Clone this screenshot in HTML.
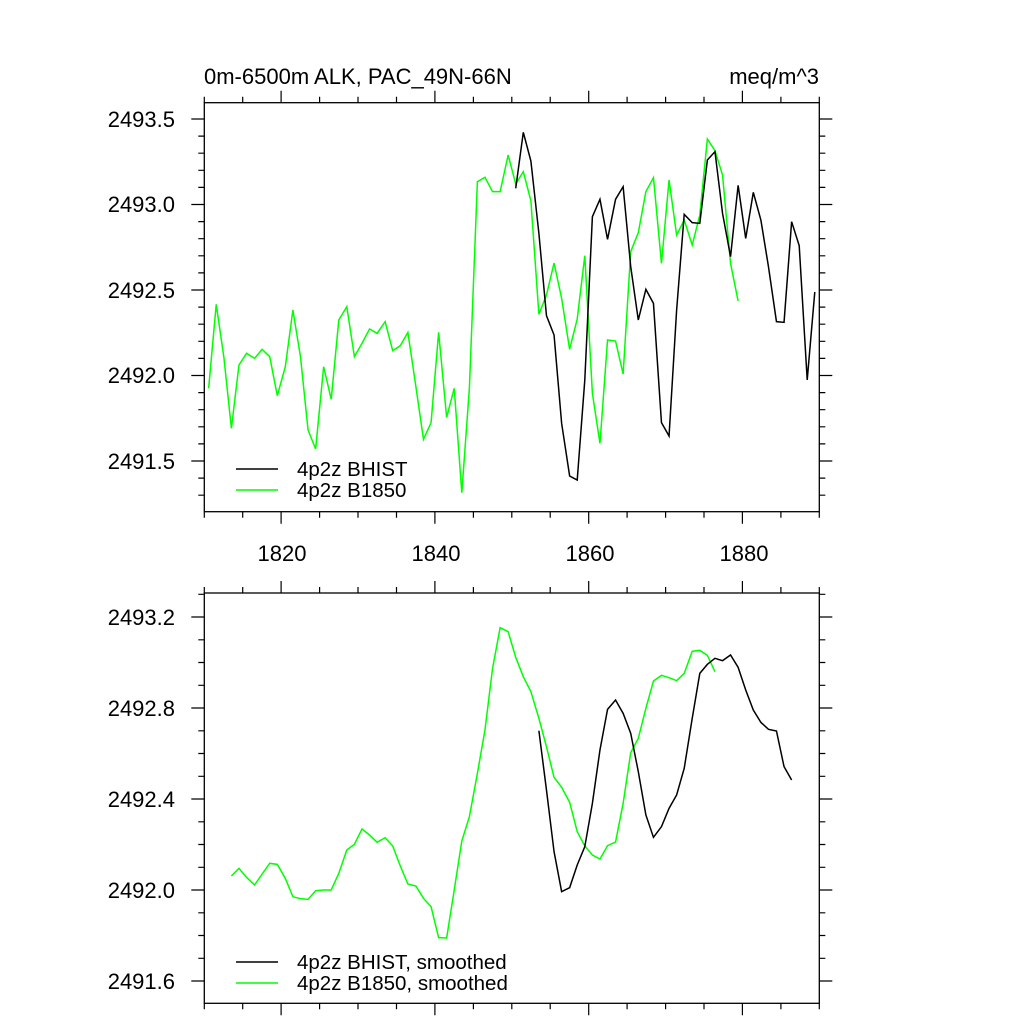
<!DOCTYPE html>
<html><head><meta charset="utf-8"><style>
html,body{margin:0;padding:0;background:#fff;}
svg{display:block;}
text{font-family:"Liberation Sans",sans-serif;fill:#000;}
</style></head><body>
<svg width="1024" height="1024" viewBox="0 0 1024 1024" xmlns="http://www.w3.org/2000/svg">
<g stroke="#000" stroke-width="1.2" fill="none">
<!-- top plot x ticks -->
<path d="M204.3 102.7v-6M242.7 102.7v-6M281.1 102.7v-12M319.6 102.7v-6M358 102.7v-6M396.5 102.7v-6M434.9 102.7v-12M473.4 102.7v-6M511.8 102.7v-6M550.2 102.7v-6M588.7 102.7v-12M627.1 102.7v-6M665.6 102.7v-6M704 102.7v-6M742.4 102.7v-12M780.9 102.7v-6M819.3 102.7v-6"/>
<path d="M204.3 511.7v6M242.7 511.7v6M281.1 511.7v12M319.6 511.7v6M358 511.7v6M396.5 511.7v6M434.9 511.7v12M473.4 511.7v6M511.8 511.7v6M550.2 511.7v6M588.7 511.7v12M627.1 511.7v6M665.6 511.7v6M704 511.7v6M742.4 511.7v12M780.9 511.7v6M819.3 511.7v6"/>
<!-- bottom plot x ticks -->
<path d="M204.3 593v-6M242.7 593v-6M281.1 593v-12M319.6 593v-6M358 593v-6M396.5 593v-6M434.9 593v-12M473.4 593v-6M511.8 593v-6M550.2 593v-6M588.7 593v-12M627.1 593v-6M665.6 593v-6M704 593v-6M742.4 593v-12M780.9 593v-6M819.3 593v-6"/>
<path d="M204.3 1003.3v6M242.7 1003.3v6M281.1 1003.3v12M319.6 1003.3v6M358 1003.3v6M396.5 1003.3v6M434.9 1003.3v12M473.4 1003.3v6M511.8 1003.3v6M550.2 1003.3v6M588.7 1003.3v12M627.1 1003.3v6M665.6 1003.3v6M704 1003.3v6M742.4 1003.3v12M780.9 1003.3v6M819.3 1003.3v6"/>
<!-- top plot y ticks -->
<path d="M204.3 119h-13M204.3 136.1h-6M204.3 153.2h-6M204.3 170.3h-6M204.3 187.4h-6M204.3 204.5h-13M204.3 221.6h-6M204.3 238.7h-6M204.3 255.8h-6M204.3 272.9h-6M204.3 290h-13M204.3 307.1h-6M204.3 324.2h-6M204.3 341.3h-6M204.3 358.4h-6M204.3 375.5h-13M204.3 392.6h-6M204.3 409.7h-6M204.3 426.8h-6M204.3 443.9h-6M204.3 461h-13M204.3 478.1h-6M204.3 495.2h-6"/>
<path d="M819.3 119h13M819.3 136.1h6M819.3 153.2h6M819.3 170.3h6M819.3 187.4h6M819.3 204.5h13M819.3 221.6h6M819.3 238.7h6M819.3 255.8h6M819.3 272.9h6M819.3 290h13M819.3 307.1h6M819.3 324.2h6M819.3 341.3h6M819.3 358.4h6M819.3 375.5h13M819.3 392.6h6M819.3 409.7h6M819.3 426.8h6M819.3 443.9h6M819.3 461h13M819.3 478.1h6M819.3 495.2h6"/>
<!-- bottom plot y ticks -->
<path d="M204.3 594.3h-6M204.3 617h-13M204.3 639.8h-6M204.3 662.5h-6M204.3 685.3h-6M204.3 708h-13M204.3 730.8h-6M204.3 753.5h-6M204.3 776.3h-6M204.3 799h-13M204.3 821.8h-6M204.3 844.5h-6M204.3 867.3h-6M204.3 890h-13M204.3 912.8h-6M204.3 935.5h-6M204.3 958.3h-6M204.3 981h-13"/>
<path d="M819.3 594.3h6M819.3 617h13M819.3 639.8h6M819.3 662.5h6M819.3 685.3h6M819.3 708h13M819.3 730.8h6M819.3 753.5h6M819.3 776.3h6M819.3 799h13M819.3 821.8h6M819.3 844.5h6M819.3 867.3h6M819.3 890h13M819.3 912.8h6M819.3 935.5h6M819.3 958.3h6M819.3 981h13"/>
</g>
<text x="204" y="84" font-size="22">0m-6500m ALK, PAC_49N-66N</text>
<text x="819" y="84" font-size="22" text-anchor="end">meq/m^3</text>
<g font-size="22" text-anchor="end">
<text x="175" y="127">2493.5</text>
<text x="175" y="212">2493.0</text>
<text x="175" y="298">2492.5</text>
<text x="175" y="383">2492.0</text>
<text x="175" y="469">2491.5</text>
<text x="175" y="625">2493.2</text>
<text x="175" y="716">2492.8</text>
<text x="175" y="807">2492.4</text>
<text x="175" y="898">2492.0</text>
<text x="175" y="989">2491.6</text>
</g>
<g font-size="22" text-anchor="middle">
<text x="282" y="561">1820</text>
<text x="436" y="561">1840</text>
<text x="590" y="561">1860</text>
<text x="744" y="561">1880</text>
</g>
<g fill="none" stroke="#000" stroke-width="1.3">
<rect x="204.3" y="102.7" width="615" height="409"/>
<rect x="204.3" y="593" width="615" height="410.3"/>
</g>
<g transform="translate(180,80) scale(0.42123,0.33333)" fill="none" stroke-width="1.5">
<polyline vector-effect="non-scaling-stroke" stroke="#00ff00" points="68,925 86,673 104,830 122,1045 140,855 158,820 177,835 195,808 213,830 231,947 250,860 268,690 286,830 304,1050 322,1107 341,860 359,958 377,720 396,680 414,830 432,790 450,747 468,760 487,725 505,812 523,797 541,757 560,920 578,1078 596,1028 614,757 633,1012 651,925 669,1238 687,925 706,305 724,292 742,335 760,335 779,225 797,312 815,275 833,362 852,703 870,645 888,549 906,655 925,808 943,717 961,527 979,940 997,1090 1015,780 1034,783 1052,882 1070,515 1088,458 1106,335 1124,293 1143,550 1161,300 1179,465 1197,420 1216,495 1234,405 1252,177 1270,212 1288,285 1307,550 1325,663"/>
<polyline vector-effect="non-scaling-stroke" stroke="#000" points="797,325 815,157 833,243 852,460 870,707 888,765 906,1030 925,1188 943,1200 961,900 979,410 997,358 1015,478 1034,358 1052,320 1070,560 1088,720 1106,628 1124,670 1143,1028 1161,1068 1179,690 1197,403 1216,428 1234,430 1252,240 1270,215 1288,400 1307,530 1325,316 1343,475 1361,337 1379,420 1397,560 1416,725 1434,727 1452,425 1470,497 1489,900 1507,636"/>
</g>
<g transform="translate(180,570) scale(0.42123,0.33333)" fill="none" stroke-width="1.5">
<polyline vector-effect="non-scaling-stroke" stroke="#00ff00" points="122,918 140,895 158,922 177,945 195,912 213,880 231,883 250,925 268,980 286,986 304,988 322,962 341,960 359,960 377,910 396,840 414,823 432,777 450,795 468,817 487,803 505,828 523,888 541,942 560,948 578,985 596,1010 614,1103 633,1104 651,960 669,813 687,740 706,610 724,480 742,295 760,173 779,185 797,262 815,320 833,365 852,445 870,530 888,622 906,652 925,697 943,785 961,828 979,855 997,867 1015,827 1034,816 1052,700 1070,548 1088,505 1106,415 1124,333 1143,316 1161,323 1179,332 1197,310 1216,244 1234,241 1252,256 1270,305"/>
<polyline vector-effect="non-scaling-stroke" stroke="#000" points="852,482 870,660 888,845 906,965 925,953 943,885 961,830 979,700 997,540 1015,418 1034,390 1052,430 1070,490 1088,605 1106,735 1124,802 1143,770 1161,715 1179,675 1197,595 1216,445 1234,310 1252,283 1270,265 1288,272 1307,255 1325,292 1343,360 1361,420 1379,457 1397,478 1416,483 1434,590 1452,630"/>
</g>
<g stroke-width="1.5">
<line x1="236" y1="469" x2="278" y2="469" stroke="#000"/>
<line x1="236" y1="490" x2="278" y2="490" stroke="#00ff00"/>
<line x1="236" y1="962" x2="278" y2="962" stroke="#000"/>
<line x1="236" y1="983" x2="278" y2="983" stroke="#00ff00"/>
</g>
<g font-size="20.5">
<text x="297" y="476">4p2z BHIST</text>
<text x="297" y="497">4p2z B1850</text>
<text x="297" y="969">4p2z BHIST, smoothed</text>
<text x="297" y="990">4p2z B1850, smoothed</text>
</g>
</svg>
</body></html>
